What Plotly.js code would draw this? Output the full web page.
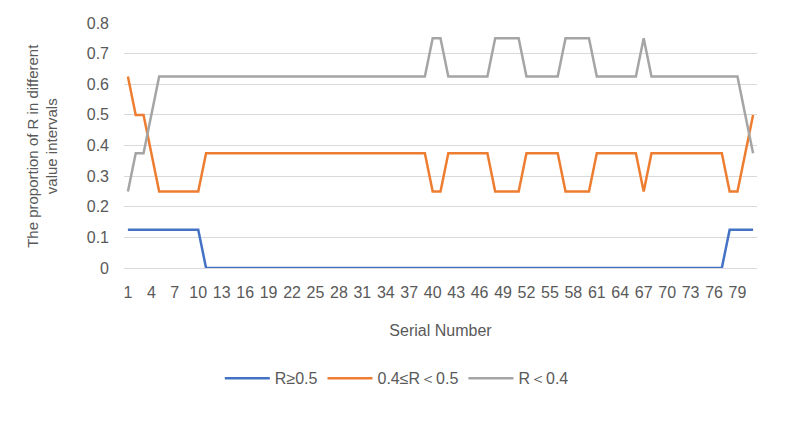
<!DOCTYPE html>
<html>
<head>
<meta charset="utf-8">
<script src="https://cdn.plot.ly/plotly-3.0.1.min.js"></script>
<style>
  html, body { margin: 0; padding: 0; background: #fff; }
  #chart { width: 788px; height: 423px; }
</style>
</head>
<body>
<div id="chart"></div>
<script>
// serial numbers 1..81
const serial = [
  1, 2, 3, 4, 5, 6, 7, 8, 9, 10, 11, 12, 13, 14, 15, 16, 17, 18, 19, 20,
  21, 22, 23, 24, 25, 26, 27, 28, 29, 30, 31, 32, 33, 34, 35, 36, 37, 38, 39, 40,
  41, 42, 43, 44, 45, 46, 47, 48, 49, 50, 51, 52, 53, 54, 55, 56, 57, 58, 59, 60,
  61, 62, 63, 64, 65, 66, 67, 68, 69, 70, 71, 72, 73, 74, 75, 76, 77, 78, 79, 80, 81
];

// R >= 0.5
const rHigh = [
  0.125, 0.125, 0.125, 0.125, 0.125, 0.125, 0.125, 0.125, 0.125, 0.125,
  0, 0, 0, 0, 0, 0, 0, 0, 0, 0,
  0, 0, 0, 0, 0, 0, 0, 0, 0, 0,
  0, 0, 0, 0, 0, 0, 0, 0, 0, 0,
  0, 0, 0, 0, 0, 0, 0, 0, 0, 0,
  0, 0, 0, 0, 0, 0, 0, 0, 0, 0,
  0, 0, 0, 0, 0, 0, 0, 0, 0, 0,
  0, 0, 0, 0, 0, 0, 0, 0.125, 0.125, 0.125, 0.125
];

// 0.4 <= R < 0.5
const rMid = [
  0.625, 0.5, 0.5, 0.375, 0.25, 0.25, 0.25, 0.25, 0.25, 0.25,
  0.375, 0.375, 0.375, 0.375, 0.375, 0.375, 0.375, 0.375, 0.375, 0.375,
  0.375, 0.375, 0.375, 0.375, 0.375, 0.375, 0.375, 0.375, 0.375, 0.375,
  0.375, 0.375, 0.375, 0.375, 0.375, 0.375, 0.375, 0.375, 0.375, 0.25,
  0.25, 0.375, 0.375, 0.375, 0.375, 0.375, 0.375, 0.25, 0.25, 0.25,
  0.25, 0.375, 0.375, 0.375, 0.375, 0.375, 0.25, 0.25, 0.25, 0.25,
  0.375, 0.375, 0.375, 0.375, 0.375, 0.375, 0.25, 0.375, 0.375, 0.375,
  0.375, 0.375, 0.375, 0.375, 0.375, 0.375, 0.375, 0.25, 0.25, 0.375, 0.5
];

// R < 0.4
const rLow = [
  0.25, 0.375, 0.375, 0.5, 0.625, 0.625, 0.625, 0.625, 0.625, 0.625,
  0.625, 0.625, 0.625, 0.625, 0.625, 0.625, 0.625, 0.625, 0.625, 0.625,
  0.625, 0.625, 0.625, 0.625, 0.625, 0.625, 0.625, 0.625, 0.625, 0.625,
  0.625, 0.625, 0.625, 0.625, 0.625, 0.625, 0.625, 0.625, 0.625, 0.75,
  0.75, 0.625, 0.625, 0.625, 0.625, 0.625, 0.625, 0.75, 0.75, 0.75,
  0.75, 0.625, 0.625, 0.625, 0.625, 0.625, 0.75, 0.75, 0.75, 0.75,
  0.625, 0.625, 0.625, 0.625, 0.625, 0.625, 0.75, 0.625, 0.625, 0.625,
  0.625, 0.625, 0.625, 0.625, 0.625, 0.625, 0.625, 0.625, 0.625, 0.5, 0.375
];

// every third serial number is labelled
const xTicks = [1, 4, 7, 10, 13, 16, 19, 22, 25, 28, 31, 34, 37, 40,
  43, 46, 49, 52, 55, 58, 61, 64, 67, 70, 73, 76, 79];

const seriesNames = ["R\u22650.5", "0.4\u2264R\uFF1C0.5", "R\uFF1C0.4"];
const seriesColors = ["#4472C4", "#ED7D31", "#A5A5A5"];

const traces = [rHigh, rMid, rLow].map((ys, i) => ({
  x: serial,
  y: ys,
  type: "scatter",
  mode: "lines",
  name: seriesNames[i],
  line: { color: seriesColors[i], width: 2.5 },
}));

const layout = {
  width: 788,
  height: 423,
  margin: { l: 124, r: 31, t: 23, b: 155 },
  paper_bgcolor: "#ffffff",
  plot_bgcolor: "#ffffff",
  font: { family: "Liberation Sans, Arial, sans-serif", color: "#595959", size: 15 },
  showlegend: true,
  legend: {
    orientation: "h",
    x: 0.431,
    xanchor: "center",
    y: -0.45,
    yanchor: "middle",
    font: { size: 16, color: "#595959" },
    itemwidth: 45,
  },
  xaxis: {
    range: [0.5, 81.5],
    tickmode: "array",
    tickvals: xTicks,
    ticktext: xTicks.map(String),
    tickangle: 0,
    showgrid: false,
    zeroline: false,
    showline: true,
    linecolor: "#d9d9d9",
    ticks: "",
    ticklabelstandoff: 10,
    tickfont: { size: 16, color: "#595959" },
    title: {
      text: "Serial Number",
      font: { size: 16, color: "#595959" },
      standoff: 24,
    },
  },
  yaxis: {
    range: [0, 0.8],
    dtick: 0.1,
    tickformat: ".1~f",
    showgrid: true,
    gridcolor: "#d9d9d9",
    gridwidth: 1,
    zeroline: false,
    showline: false,
    ticks: "",
    ticklabelstandoff: 14,
    tickfont: { size: 16, color: "#595959" },
  },
  annotations: [
    {
      text: "The proportion of R in different<br>value intervals",
      xref: "paper",
      yref: "paper",
      x: -0.129,
      y: 0.5,
      xanchor: "center",
      yanchor: "middle",
      textangle: -90,
      showarrow: false,
      font: { size: 15, color: "#595959" },
    },
  ],
};

Plotly.newPlot("chart", traces, layout, { displayModeBar: false });
</script>
</body>
</html>
